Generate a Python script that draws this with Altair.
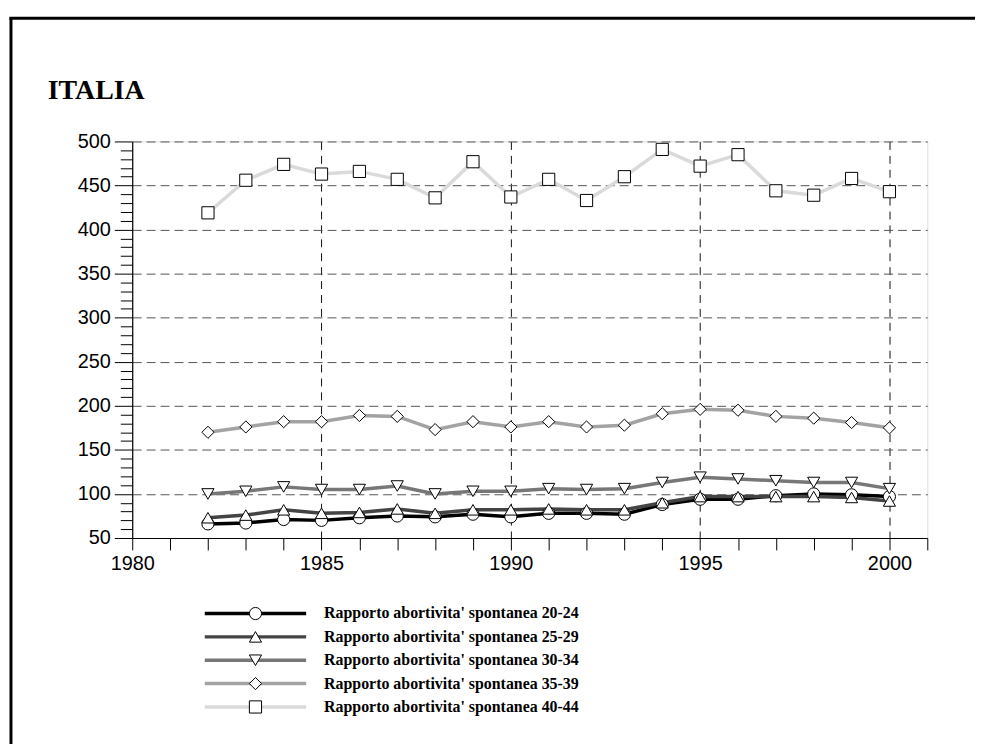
import altair as alt
import pandas as pd

title_text = ["ITALIA"]
years = list(range(1982, 2001))
series = [
    "Rapporto abortivita' spontanea 20-24",
    "Rapporto abortivita' spontanea 25-29",
    "Rapporto abortivita' spontanea 30-34",
    "Rapporto abortivita' spontanea 35-39",
    "Rapporto abortivita' spontanea 40-44",
]
s20_24 = [66, 67, 71, 70, 73, 75, 74, 77, 74, 78, 78, 77, 88, 94, 94, 98, 100, 99, 97]
s25_29 = [73, 76, 82, 78, 79, 83, 78, 82, 82, 83, 82, 82, 90, 97, 97, 97, 97, 96, 92]
s30_34 = [100, 103, 108, 105, 105, 109, 100, 103, 103, 106, 105, 106, 113, 119, 117, 115, 113, 113, 106]
s35_39 = [170, 176, 182, 182, 189, 188, 173, 182, 176, 182, 176, 178, 191, 196, 195, 188, 186, 181, 175]
s40_44 = [419, 456, 474, 463, 466, 457, 436, 477, 437, 457, 433, 460, 491, 472, 485, 444, 439, 458, 443]
values = [s20_24, s25_29, s30_34, s35_39, s40_44]

colors = ["#000000", "#444444", "#777777", "#a3a3a3", "#dadada"]
shapes = ["circle", "triangle-up", "triangle-down", "diamond", "square"]

rows = []
for si, (name, vals) in enumerate(zip(series, values)):
    for y, v in zip(years, vals):
        rows.append({"year": y, "value": v, "series": name, "order": si})
df = pd.DataFrame(rows)
leg = pd.DataFrame({"series": series})
tdf = pd.DataFrame({"t": title_text})

color_scale = alt.Scale(domain=series, range=colors)
shape_scale = alt.Scale(domain=series, range=shapes)

x_enc = alt.X(
    "year:Q",
    scale=alt.Scale(domain=[1980, 2001], nice=False, zero=False),
    axis=alt.Axis(
        title=None,
        values=list(range(1980, 2002)),
        labelExpr="(datum.value % 5 === 0 && datum.value <= 2000) ? format(datum.value, 'd') : ''",
        tickSize=12,
        tickColor="#000000",
        domainColor="#000000",
        domainWidth=1.2,
        labelFont="Liberation Sans",
        labelFontSize=20,
        labelColor="#000000",
        labelPadding=4,
        labelFlush=False,
        labelOverlap=False,
        grid=True,
        gridColor="#111111",
        gridDash=[8, 6],
        gridWidth=1,
        gridOpacity={"condition": {"test": "datum.value % 5 === 0 && datum.value > 1980 && datum.value <= 2000", "value": 1}, "value": 0},
    ),
)
y_enc = alt.Y(
    "value:Q",
    scale=alt.Scale(domain=[50, 500], nice=False, zero=False),
    axis=alt.Axis(
        title=None,
        values=list(range(50, 501, 10)),
        labelExpr="datum.value % 50 === 0 ? format(datum.value, 'd') : ''",
        tickSize={"condition": {"test": "datum.value % 50 === 0", "value": 18}, "value": 12},
        tickColor="#000000",
        domainColor="#000000",
        domainWidth=1.2,
        labelFont="Liberation Sans",
        labelFontSize=20,
        labelColor="#000000",
        labelPadding=4,
        labelFlush=False,
        labelOverlap=False,
        grid=True,
        gridColor="#555555",
        gridDash=[9, 5],
        gridWidth=1,
        gridOpacity={"condition": {"test": "datum.value % 50 === 0 && datum.value > 50", "value": 1}, "value": 0},
    ),
)

base = alt.Chart(df)
lines = base.mark_line(strokeWidth=3.5).encode(
    x=x_enc,
    y=y_enc,
    color=alt.Color("series:N", scale=color_scale, legend=None),
    detail="series:N",
    order="year:Q",
)
points = base.mark_point(filled=False, fill="white", stroke="black", strokeWidth=1, size=150, opacity=1).encode(
    x=x_enc,
    y=y_enc,
    shape=alt.Shape("series:N", scale=shape_scale, legend=None),
)
main = alt.layer(lines, points)

leg_y = alt.Y("series:N", scale=alt.Scale(type="point", domain=series, range=[475, 569], padding=0), axis=None)
leg_base = alt.Chart(leg)
leg_lines = leg_base.mark_rule(strokeWidth=3.5).encode(
    y=leg_y,
    x=alt.value(73),
    x2=alt.value(175),
    color=alt.Color("series:N", scale=color_scale, legend=None),
)
leg_points = leg_base.mark_point(filled=False, fill="white", stroke="black", strokeWidth=1, size=150, opacity=1).encode(
    y=leg_y,
    x=alt.value(124),
    shape=alt.Shape("series:N", scale=shape_scale, legend=None),
)
leg_text = leg_base.mark_text(
    align="left", baseline="middle", font="Liberation Serif", fontSize=16, fontWeight="bold", color="black"
).encode(
    y=leg_y,
    x=alt.value(193),
    text="series:N",
)
legend = alt.layer(leg_lines, leg_points, leg_text)

title = alt.Chart(tdf).mark_text(
    align="left", baseline="alphabetic", font="Liberation Serif", fontSize=28, fontWeight="bold", color="black"
).encode(
    x=alt.value(-85),
    y=alt.value(-43),
    text="t:N",
)

frame_left = alt.Chart(tdf).mark_rule(color="black", strokeWidth=3).encode(
    x=alt.value(-122), y=alt.value(-125), y2=alt.value(640)
)
frame_top = alt.Chart(tdf).mark_rule(color="black", strokeWidth=3).encode(
    x=alt.value(-123.5), x2=alt.value(848), y=alt.value(-124)
)

chart = alt.layer(
    main, legend, title, frame_left, frame_top
).resolve_scale(y="independent").properties(
    width=800,
    height=399,
    autosize=alt.AutoSizeParams(type="none"),
    padding={"left": 125, "top": 132, "right": 48, "bottom": 205},
).configure_view(stroke=None, strokeWidth=0).configure(background="white")

chart.save("out.html", embed_options={"renderer": "svg", "actions": False})
